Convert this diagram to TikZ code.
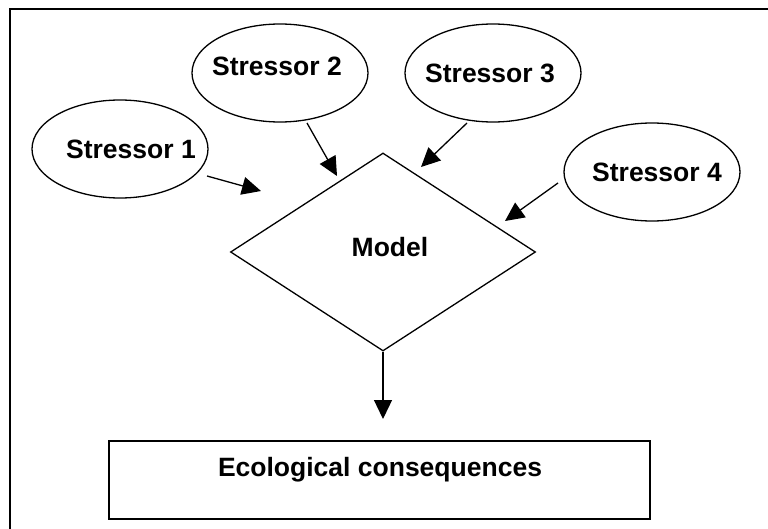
\documentclass[tikz,border=0pt]{standalone}
\usepackage{fontspec}
\setmainfont{Liberation Sans}
\usetikzlibrary{shapes.geometric,arrows.meta}
\begin{document}
\begin{tikzpicture}[x=1pt,y=-1pt, line width=1.3pt,
  stress/.style={ellipse, draw, minimum width=176pt, minimum height=98pt, inner sep=0pt},
  txt/.style={font=\fontsize{26.5}{30}\selectfont\bfseries, inner sep=0pt},
  arr/.style={-{Triangle[length=19pt,width=18pt]}},
]
\useasboundingbox (0,0) rectangle (768,529);
% outer frame (only top and left visible)
\draw[line width=2pt] (10,545) -- (10,9) -- (790,9);

% stressors
\node[stress] (s1) at (120,149) {};
\node[txt] (t1) at (131,149) {Stressor 1};
\node[stress] (s2) at (280,73) {};
\node[txt] (t2) at (277,66) {Stressor 2};
\node[stress] (s3) at (493,73) {};
\node[txt] (t3) at (490,73) {Stressor 3};
\node[stress] (s4) at (652,172) {};
\node[txt] (t4) at (657,172) {Stressor 4};

% model
\node[diamond, draw, minimum width=305pt, minimum height=198pt, inner sep=0pt] (m) at (383,252) {};
\node[txt] (tm) at (390,247) {Model};

% consequences
\node[draw, minimum width=541pt, minimum height=78pt, inner sep=0pt] (e) at (379.5,480) {};
\node[txt] (te) at (380,470) {Ecological consequences};

% arrow end points
\coordinate (a1s) at (207,176); \coordinate (a1e) at (261,191);
\coordinate (a2s) at (307,123); \coordinate (a2e) at (337,176);
\coordinate (a3s) at (467,123); \coordinate (a3e) at (421,167);
\coordinate (a4s) at (558,183); \coordinate (a4e) at (505,221);
\coordinate (a5e) at (383,419);

\draw[arr] (a1s) -- (a1e);
\draw[arr] (a2s) -- (a2e);
\draw[arr] (a3s) -- (a3e);
\draw[arr] (a4s) -- (a4e);
\draw[arr] (m.south) -- (a5e);
\end{tikzpicture}
\end{document}
